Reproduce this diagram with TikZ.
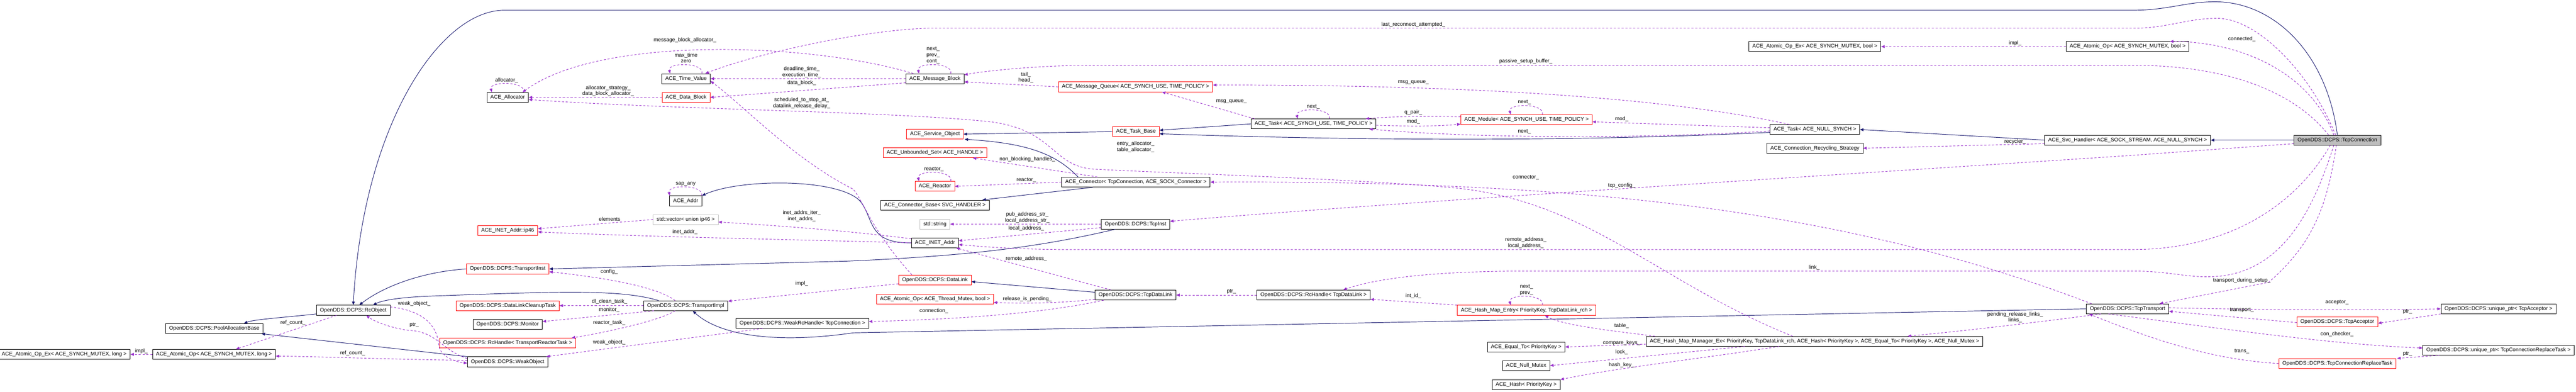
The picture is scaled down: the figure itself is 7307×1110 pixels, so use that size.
\documentclass[tikz,border=0pt]{standalone}
\usepackage{fontspec}
\setmainfont{Liberation Sans}
\usetikzlibrary{arrows.meta,calc}
\definecolor{inhcol}{HTML}{191970}
\definecolor{depcol}{HTML}{9A32CD}
\definecolor{stdcol}{HTML}{BFBFBF}
\tikzset{
  cls/.style={draw=black, line width=0.6pt, minimum height=14pt, inner xsep=5pt, inner ysep=1pt, fill=white},
  redcls/.style={cls, draw=red},
  stdcls/.style={cls, draw=stdcol},
  maincls/.style={cls, fill=stdcol},
  lbl/.style={inner sep=0.5pt},
  inh/.style={draw=inhcol, line width=0.7pt, -{Triangle[length=5pt,width=4pt]}},
  dep/.style={draw=depcol, line width=0.7pt, dash pattern=on 3pt off 2.5pt, -{Triangle[length=5pt,width=4pt]}},
  selfloop/.style={dep}
}
\newcommand{\looptop}[1]{($(#1.north)+(45,0)$) .. controls +(8,-32) and +(-8,-32) .. ($(#1.north)+(-45,0)$)}
\begin{document}
\begin{tikzpicture}[x=0.5pt, y=-0.5pt, every node/.style={font=\fontsize{7.5}{9}\selectfont}]
  \useasboundingbox[fill=white] (0,0) rectangle (7307,1110);

  \node[maincls] (conn) at (6630,397) {OpenDDS::DCPS::TcpConnection};
  \node[cls] (svch) at (6035,397) {ACE\_Svc\_Handler< ACE\_SOCK\_STREAM, ACE\_NULL\_SYNCH >};
  \node[cls] (tasknull) at (5148,367) {ACE\_Task< ACE\_NULL\_SYNCH >};
  \node[cls] (recyc) at (5148,420) {ACE\_Connection\_Recycling\_Strategy};
  \node[cls] (aopexb) at (5148,132) {ACE\_Atomic\_Op\_Ex< ACE\_SYNCH\_MUTEX, bool >};
  \node[cls] (aopb) at (6035,132) {ACE\_Atomic\_Op< ACE\_SYNCH\_MUTEX, bool >};
  \node[cls] (trans) at (6035,875) {OpenDDS::DCPS::TcpTransport};
  \node[cls] (uacc) at (7087,875) {OpenDDS::DCPS::unique\_ptr< TcpAcceptor >};
  \node[redcls] (acc) at (6630,912) {OpenDDS::DCPS::TcpAcceptor};
  \node[cls] (urep) at (7087,992) {OpenDDS::DCPS::unique\_ptr< TcpConnectionReplaceTask >};
  \node[redcls] (rep) at (6630,1030) {OpenDDS::DCPS::TcpConnectionReplaceTask};
  \node[cls] (hmm) at (5147,967) {ACE\_Hash\_Map\_Manager\_Ex< PriorityKey, TcpDataLink\_rch, ACE\_Hash< PriorityKey >, ACE\_Equal\_To< PriorityKey >, ACE\_Null\_Mutex >};
  \node[redcls] (hme) at (4330,879) {ACE\_Hash\_Map\_Entry< PriorityKey, TcpDataLink\_rch >};
  \node[cls] (eqto) at (4329,983) {ACE\_Equal\_To< PriorityKey >};
  \node[cls] (nullmx) at (4329,1036) {ACE\_Null\_Mutex};
  \node[cls] (hashk) at (4329,1090) {ACE\_Hash< PriorityKey >};
  \node[redcls] (module) at (4330,339) {ACE\_Module< ACE\_SYNCH\_USE, TIME\_POLICY >};
  \node[cls] (tasksu) at (3726,351) {ACE\_Task< ACE\_SYNCH\_USE, TIME\_POLICY >};
  \node[cls] (rchdl) at (3726,836) {OpenDDS::DCPS::RcHandle< TcpDataLink >};
  \node[redcls] (msgq) at (3221,246) {ACE\_Message\_Queue< ACE\_SYNCH\_USE, TIME\_POLICY >};
  \node[redcls] (taskb) at (3222,373) {ACE\_Task\_Base};
  \node[cls] (connector) at (3222,516) {ACE\_Connector< TcpConnection, ACE\_SOCK\_Connector >};
  \node[cls] (tcpinst) at (3221,635) {OpenDDS::DCPS::TcpInst};
  \node[cls] (tcpdl) at (3221,836) {OpenDDS::DCPS::TcpDataLink};
  \node[cls] (msgb) at (2652,223) {ACE\_Message\_Block};
  \node[redcls] (svcobj) at (2652,380) {ACE\_Service\_Object};
  \node[redcls] (uset) at (2652,433) {ACE\_Unbounded\_Set< ACE\_HANDLE >};
  \node[redcls] (reactor) at (2652,528) {ACE\_Reactor};
  \node[cls] (connbase) at (2652,581) {ACE\_Connector\_Base< SVC\_HANDLER >};
  \node[stdcls] (stdstr) at (2652,635) {std::string};
  \node[cls] (inet) at (2652,688) {ACE\_INET\_Addr};
  \node[redcls] (dlink) at (2652,793) {OpenDDS::DCPS::DataLink};
  \node[redcls] (aoptm) at (2652,847) {ACE\_Atomic\_Op< ACE\_Thread\_Mutex, bool >};
  \node[cls] (weakh) at (2276,916) {OpenDDS::DCPS::WeakRcHandle< TcpConnection >};
  \node[cls] (timev) at (1946,223) {ACE\_Time\_Value};
  \node[redcls] (dblock) at (1946,276) {ACE\_Data\_Block};
  \node[cls] (addr) at (1945,569) {ACE\_Addr};
  \node[stdcls] (vec) at (1945,622) {std::vector< union ip46 >};
  \node[cls] (timpl) at (1945,866) {OpenDDS::DCPS::TransportImpl};
  \node[cls] (alloc) at (1440,276) {ACE\_Allocator};
  \node[redcls] (ip46) at (1440,653) {ACE\_INET\_Addr::ip46};
  \node[redcls] (tinst) at (1440,762) {OpenDDS::DCPS::TransportInst};
  \node[redcls] (dlct) at (1440,866) {OpenDDS::DCPS::DataLinkCleanupTask};
  \node[cls] (mon) at (1440,919) {OpenDDS::DCPS::Monitor};
  \node[redcls] (rctrt) at (1440,972) {OpenDDS::DCPS::RcHandle< TransportReactorTask >};
  \node[cls] (weako) at (1440,1025) {OpenDDS::DCPS::WeakObject};
  \node[cls] (rcobj) at (1002,879) {OpenDDS::DCPS::RcObject};
  \node[cls] (pool) at (608,931) {OpenDDS::DCPS::PoolAllocationBase};
  \node[cls] (aopl) at (607,1004) {ACE\_Atomic\_Op< ACE\_SYNCH\_MUTEX, long >};
  \node[cls] (aopexl) at (182,1004) {ACE\_Atomic\_Op\_Ex< ACE\_SYNCH\_MUTEX, long >};

  \draw[inh] (conn.west) -- (svch.east);
  \draw[inh] (svch.west) -- (tasknull.east);
  \draw[inh] ($(tasknull.west)+(0,8)$) .. controls (4500,400) and (3900,400) .. ($(taskb.east)+(0,6)$);
  \draw[inh] (tasksu.west) -- ($(taskb.east)+(0,-4)$);
  \draw[inh] (taskb.west) -- (svcobj.east);
  \draw[inh] ($(connector.north west)+(47,0)$) .. controls (2990,430) and (2900,405) .. ($(svcobj.south east)+(3,0)$);
  \draw[inh] ($(connector.south)+(-122,0)$) -- ($(connbase.north east)+(-20,0)$);
  \draw[inh] (inet.west) .. controls (2460,690) and (2480,620) .. (2440,570) .. controls (2380,505) and (2100,505) .. (addr.north east);
  \draw[inh] ($(tcpinst.south west)+(40,0)$) .. controls (2950,700) and (2750,725) .. (2400,740) -- (tinst.east);
  \draw[inh] ($(tcpdl.west)+(0,-8)$) -- ($(dlink.east)+(0,5)$);
  \draw[inh] (trans.west) -- (2420,943) .. controls (2200,975) and (2040,950) .. ($(timpl.south)+(20,0)$);
  \draw[inh] ($(timpl.north)+(-77,0)$) .. controls (1760,820) and (1600,825) .. (1220,839) .. controls (1120,843) and (1080,853) .. ($(rcobj.north)+(56,0)$);
  \draw[inh] (tinst.west) .. controls (1200,770) and (1090,810) .. ($(rcobj.north)+(17,0)$);
  \draw[inh] (conn.north) .. controls (6600,150) and (6450,5) .. (6283,5) .. controls (6200,5) and (6150,29) .. (6050,29) -- (1430,29) .. controls (1250,29) and (1030,350) .. (rcobj.north);
  \draw[inh] ($(rcobj.south west)+(0,-4)$) .. controls (800,900) and (720,905) .. ($(pool.north east)+(-55,0)$);
  \draw[inh] (weako.north west) -- ($(pool.south east)+(-5,0)$);

  \draw[dep] ($(conn.north)+(-10,0)$) .. controls (6550,200) and (6350,118) .. ($(aopb.north)+(120,0)$);
  \node[lbl] (lconnected) at (6359,111) {connected\_};
  \draw[dep] (aopb.west) -- (aopexb.east);
  \node[lbl] (limplb) at (5716,122) {impl\_};
  \draw[dep] ($(conn.north)+(-5,0)$) .. controls (6550,200) and (6400,52) .. (6290,52) .. controls (6200,52) and (6150,80) .. (6050,80) -- (2633,80) .. controls (2450,85) and (2150,150) .. ($(timev.north east)+(-15,0)$);
  \node[lbl] (llast) at (4009,70) {last\_reconnect\_attempted\_};
  \draw[dep] ($(conn.north)+(-25,0)$) .. controls (6500,250) and (6300,185) .. (6050,185) -- (3100,185) .. controls (2950,185) and (2800,200) .. ($(msgb.east)+(0,-11)$);
  \node[lbl] (lpassive) at (4328,174) {passive\_setup\_buffer\_};
  \draw[selfloop] \looptop{msgb};
  \node[lbl] (lmbnext) at (2647,139) {next\_};
  \node[lbl] (lmbprev) at (2647,157) {prev\_};
  \node[lbl] (lmbcont) at (2647,174) {cont\_};
  \draw[dep] ($(msgb.north west)+(22,0)$) .. controls (2300,120) and (1700,100) .. ($(alloc.north east)+(-17,0)$);
  \node[lbl] (lmballoc) at (1943,114) {message\_block\_allocator\_};
  \draw[dep] (msgb.west) -- (timev.east);
  \node[lbl] (ldeadline) at (2274,195) {deadline\_time\_};
  \node[lbl] (lexec) at (2274,213) {execution\_time\_};
  \draw[dep] ($(msgb.south west)+(0,-3)$) -- (dblock.east);
  \node[lbl] (ldblock) at (2274,235) {data\_block\_};
  \draw[dep] (dblock.west) -- (alloc.east);
  \node[lbl] (lallocstr) at (1725,249) {allocator\_strategy\_};
  \node[lbl] (ldballoc) at (1725,266) {data\_block\_allocator\_};
  \draw[selfloop] \looptop{alloc};
  \node[lbl] (lalloc) at (1437,227) {allocator\_};
  \draw[selfloop] \looptop{timev};
  \node[lbl] (lmaxtime) at (1946,157) {max\_time};
  \node[lbl] (lzero) at (1946,174) {zero};
  \draw[dep] (msgq.west) -- ($(msgb.east)+(0,9)$);
  \node[lbl] (ltail) at (2910,211) {tail\_};
  \node[lbl] (lhead) at (2910,227) {head\_};
  \draw[dep] ($(tasksu.north west)+(10,0)$) -- ($(msgq.south)+(75,0)$);
  \node[lbl] (lmsgq) at (3493,287) {msg\_queue\_};
  \draw[dep] ($(tasknull.north west)+(55,0)$) .. controls (4700,270) and (4100,240) .. ($(msgq.east)+(0,-5)$);
  \node[lbl] (lmsgqn) at (4009,234) {msg\_queue\_};
  \draw[selfloop] \looptop{tasksu};
  \node[lbl] (ltasknext) at (3725,303) {next\_};
  \draw[dep] ($(module.west)+(0,-8)$) .. controls (4050,328) and (3950,330) .. ($(tasksu.north east)+(-30,0)$);
  \node[lbl] (lqpair) at (4009,318) {q\_pair\_};
  \draw[dep] ($(tasksu.east)+(0,4)$) .. controls (4000,358) and (4080,358) .. ($(module.south west)+(0,-2)$);
  \node[lbl] (lmod) at (4009,345) {mod\_};
  \draw[selfloop] \looptop{module};
  \node[lbl] (lmodnext) at (4324,290) {next\_};
  \draw[dep] ($(tasknull.west)+(0,-5)$) .. controls (4850,356) and (4650,350) .. ($(module.east)+(0,6)$);
  \node[lbl] (lmodn) at (4600,337) {mod\_};
  \draw[dep] ($(tasknull.west)+(0,4)$) .. controls (4700,392) and (4200,394) .. ($(tasksu.south east)+(-20,0)$);
  \node[lbl] (lnextn) at (4324,373) {next\_};
  \draw[dep] ($(svch.west)+(0,10)$) -- (recyc.east);
  \node[lbl] (lrecyc) at (5716,402) {recycler\_};
  \draw[dep] ($(conn.west)+(0,10)$) -- (6050,440) .. controls (5300,490) and (4000,570) .. ($(tcpinst.east)+(0,-8)$);
  \node[lbl] (ltcpcfg) at (4600,526) {tcp\_config\_};
  \draw[dep] ($(trans.north west)+(15,0)$) .. controls (5300,620) and (4600,510) .. (connector.east);
  \node[lbl] (lconnector) at (4328,503) {connector\_};
  \draw[dep] ($(hmm.north)+(-62,0)$) .. controls (4700,800) and (4500,560) .. (4100,530) .. controls (3800,505) and (3300,490) .. (3100,479) .. controls (2980,470) and (2990,360) .. (2789,343) .. controls (2500,315) and (1900,310) .. ($(alloc.east)+(0,6)$);
  \node[lbl] (lentry) at (3221,407) {entry\_allocator\_};
  \node[lbl] (ltable) at (3221,425) {table\_allocator\_};
  \draw[dep] ($(hmm.north west)+(25,0)$) .. controls (4550,935) and (4430,920) .. ($(hme.south)+(52,0)$);
  \node[lbl] (ltbl) at (4600,923) {table\_};
  \draw[dep] ($(hmm.west)+(0,8)$) -- (eqto.east);
  \node[lbl] (lcmp) at (4600,971) {compare\_keys\_};
  \draw[dep] ($(hmm.south west)+(280,0)$) -- (nullmx.east);
  \node[lbl] (llock) at (4600,998) {lock\_};
  \draw[dep] ($(hmm.south west)+(377,0)$) .. controls (4800,1020) and (4600,1040) .. (hashk.north east);
  \node[lbl] (lhash) at (4600,1035) {hash\_key\_};
  \draw[selfloop] \looptop{hme};
  \node[lbl] (lhmenext) at (4330,813) {next\_};
  \node[lbl] (lhmeprev) at (4330,831) {prev\_};
  \draw[dep] (hme.north west) -- ($(rchdl.east)+(0,12)$);
  \node[lbl] (lintid) at (4009,839) {int\_id\_};
  \draw[dep] ($(conn.south)+(-10,0)$) .. controls (6560,600) and (6470,780) .. (6270,784) .. controls (6200,786) and (6150,768) .. (6050,768) -- (4300,768) .. controls (4050,770) and (3900,790) .. ($(rchdl.north)+(84,0)$);
  \node[lbl] (llink) at (5146,758) {link\_};
  \draw[dep] (rchdl.west) -- (tcpdl.east);
  \node[lbl] (lptrdl) at (3493,826) {ptr\_};
  \draw[dep] ($(tcpdl.west)+(0,12)$) .. controls (3000,860) and (2900,860) .. ($(aoptm.east)+(0,10)$);
  \node[lbl] (lrelease) at (2914,847) {release\_is\_pending\_};
  \draw[dep] ($(tcpdl.south west)+(25,0)$) .. controls (2950,890) and (2700,905) .. ($(weakh.east)+(0,-5)$);
  \node[lbl] (lconnection) at (2649,881) {connection\_};
  \draw[dep] ($(weakh.south west)+(76,0)$) -- ($(weako.north east)+(-5,0)$);
  \node[lbl] (lweakh) at (1728,970) {weak\_object\_};
  \draw[dep] ($(tcpdl.north west)+(45,0)$) -- ($(inet.south east)+(-7,0)$);
  \node[lbl] (lremdl) at (2911,733) {remote\_address\_};
  \draw[dep] (tcpinst.west) -- (stdstr.east);
  \node[lbl] (lpubstr) at (2914,607) {pub\_address\_str\_};
  \node[lbl] (llocstr) at (2914,625) {local\_address\_str\_};
  \draw[dep] ($(tcpinst.west)+(0,10)$) -- ($(inet.east)+(0,-6)$);
  \node[lbl] (llocinst) at (2911,647) {local\_address\_};
  \draw[dep] ($(conn.south)+(-20,0)$) .. controls (6500,600) and (6300,707) .. (6050,707) -- (3000,707) .. controls (2850,705) and (2780,698) .. ($(inet.east)+(0,5)$);
  \node[lbl] (lremconn) at (4328,679) {remote\_address\_};
  \node[lbl] (lloconn) at (4328,697) {local\_address\_};
  \draw[dep] ($(conn.south)+(-3,0)$) .. controls (6600,600) and (6550,700) .. (6435,800) -- ($(trans.north east)+(-27,0)$);
  \node[lbl] (lduring) at (6359,795) {transport\_during\_setup\_};
  \draw[dep] ($(trans.east)+(0,-3)$) .. controls (6400,878) and (6700,880) .. (uacc.west);
  \node[lbl] (lacceptor) at (6629,857) {acceptor\_};
  \draw[dep] (uacc.south west) -- ($(acc.east)+(0,4)$);
  \node[lbl] (lptracc) at (6829,883) {ptr\_};
  \draw[dep] ($(acc.west)+(0,2)$) -- ($(trans.east)+(0,7)$);
  \node[lbl] (ltransport) at (6359,879) {transport\_};
  \draw[dep] ($(trans.south west)+(63,0)$) .. controls (6300,930) and (6600,975) .. ($(urep.west)+(0,-6)$);
  \node[lbl] (lchecker) at (6629,946) {con\_checker\_};
  \draw[dep] ($(urep.south west)+(47,0)$) -- ($(rep.north east)+(3,0)$);
  \node[lbl] (lptrrep) at (6829,1003) {ptr\_};
  \draw[dep] (rep.west) .. controls (6300,1020) and (6150,980) .. ($(trans.south west)+(8,0)$);
  \node[lbl] (ltrans) at (6359,995) {trans\_};
  \draw[dep] ($(trans.south west)+(42,0)$) .. controls (5800,910) and (5600,935) .. ($(hmm.north)+(264,0)$);
  \node[lbl] (lpending) at (5716,891) {pending\_release\_links\_};
  \node[lbl] (llinks) at (5716,907) {links\_};
  \draw[dep] ($(connector.north west)+(102,0)$) -- ($(uset.south east)+(-40,0)$);
  \node[lbl] (lnonblock) at (2914,451) {non\_blocking\_handles\_};
  \draw[dep] (connector.west) -- (reactor.east);
  \node[lbl] (lreactor) at (2911,511) {reactor\_};
  \draw[selfloop] \looptop{reactor};
  \node[lbl] (lreactself) at (2649,479) {reactor\_};
  \draw[selfloop] \looptop{addr};
  \node[lbl] (lsapany) at (1945,521) {sap\_any};
  \draw[dep] ($(inet.north west)+(0,3)$) .. controls (2450,660) and (2300,645) .. ($(vec.east)+(0,7)$);
  \node[lbl] (literaddr) at (2274,603) {inet\_addrs\_iter\_};
  \node[lbl] (laddrs) at (2274,621) {inet\_addrs\_};
  \draw[dep] (inet.west) .. controls (2300,680) and (1800,670) .. ($(ip46.east)+(0,4)$);
  \node[lbl] (linetaddr) at (1943,657) {inet\_addr\_};
  \draw[dep] (vec.west) -- ($(ip46.east)+(0,-5)$);
  \node[lbl] (lelements) at (1729,621) {elements};
  \draw[dep] ($(timpl.north)+(-30,0)$) .. controls (1860,810) and (1700,785) .. ($(tinst.east)+(0,8)$);
  \node[lbl] (lconfig) at (1728,770) {config\_};
  \draw[dep] (timpl.west) -- (dlct.east);
  \node[lbl] (ldlclean) at (1729,855) {dl\_clean\_task\_};
  \draw[dep] ($(timpl.south west)+(30,0)$) -- ($(mon.east)+(0,-8)$);
  \node[lbl] (lmonitor) at (1728,878) {monitor\_};
  \draw[dep] ($(timpl.south)+(-30,0)$) .. controls (1870,910) and (1700,945) .. ($(rctrt.north east)+(-12,0)$);
  \node[lbl] (lreactortask) at (1728,914) {reactor\_task\_};
  \draw[dep] ($(dlink.west)+(0,11)$) -- ($(timpl.north east)+(0,2)$);
  \node[lbl] (limpl) at (2274,803) {impl\_};
  \draw[dep] ($(dlink.north west)+(38,0)$) .. controls (2470,650) and (2450,570) .. (2420,536) .. controls (2250,450) and (2110,300) .. ($(timev.south east)+(0,-8)$);
  \node[lbl] (lsched) at (2274,283) {scheduled\_to\_stop\_at\_};
  \node[lbl] (ldelay) at (2274,301) {datalink\_release\_delay\_};
  \draw[dep] ($(rcobj.south west)+(57,0)$) -- ($(aopl.north)+(62,0)$);
  \node[lbl] (lrefrc) at (831,915) {ref\_count\_};
  \draw[dep] ($(weako.west)+(0,-4)$) .. controls (1100,1018) and (900,1010) .. ($(aopl.east)+(0,5)$);
  \node[lbl] (lrefwo) at (1000,1001) {ref\_count\_};
  \draw[dep] (aopl.west) -- (aopexl.east);
  \node[lbl] (limpll) at (401,995) {impl\_};
  \draw[dep] ($(rcobj.north east)+(0,5)$) .. controls (1200,880) and (1240,920) .. (1245,980) .. controls (1250,1010) and (1290,1025) .. ($(weako.west)+(0,4)$);
  \node[lbl] (lweakrc) at (1175,861) {weak\_object\_};
  \draw[dep] ($(weako.west)+(0,-9)$) .. controls (1250,990) and (1240,940) .. (1160,936) .. controls (1110,930) and (1060,910) .. ($(rcobj.south)+(37,0)$);
  \node[lbl] (lptrwo) at (1175,921) {ptr\_};
\end{tikzpicture}
\end{document}
